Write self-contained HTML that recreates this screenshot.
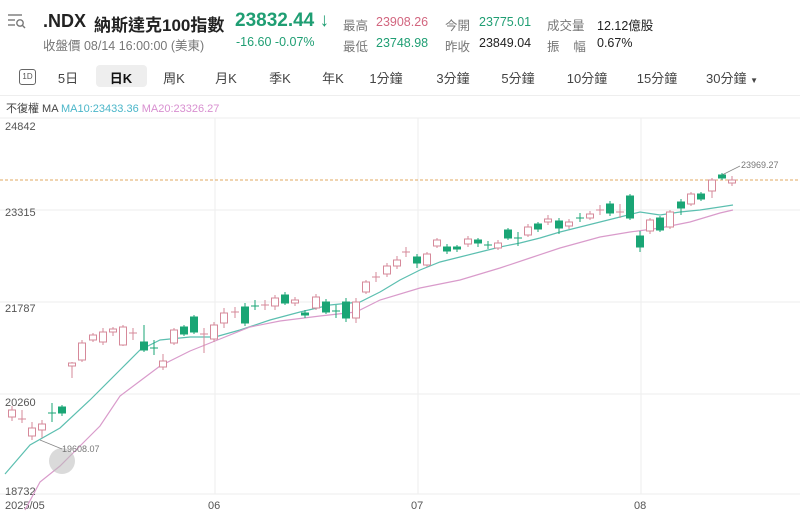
<!DOCTYPE html>
<html><head><meta charset="utf-8"><style>
body{margin:0;width:800px;height:516px;background:#fff;font-family:"Liberation Sans","Noto Sans CJK TC",sans-serif;position:relative;overflow:hidden}
.t{position:absolute;white-space:nowrap}
.g{color:#1f9e73}.r{color:#d2667f}.k{color:#222}.m{color:#777}
.tab{position:absolute;top:68px;font-size:13px;color:#444;transform:translateX(-50%)}
</style></head><body>
<svg class="t" style="left:7px;top:12px" width="20" height="18"><g stroke="#777" stroke-width="1.4" fill="none"><line x1="1" y1="3" x2="15" y2="3"/><line x1="1" y1="8" x2="8" y2="8"/><line x1="1" y1="13" x2="8" y2="13"/><circle cx="13" cy="11" r="3.2"/><line x1="15.3" y1="13.3" x2="18" y2="16"/></g></svg>
<div class="t k" style="left:43px;top:11px;font-size:18px;font-weight:bold">.NDX</div>
<div class="t k" style="left:94px;top:11px;font-size:17px;font-weight:bold">納斯達克100指數</div>
<div class="t g" style="left:235px;top:10px;font-size:19px;font-weight:bold">23832.44 ↓</div>
<div class="t m" style="left:43px;top:35px;font-size:12.5px">收盤價 08/14 16:00:00 (美東)</div>
<div class="t g" style="left:236px;top:35px;font-size:12.5px">-16.60 -0.07%</div>
<div class="t m" style="left:343px;top:15px;font-size:12.5px">最高</div>
<div class="t r" style="left:376px;top:15px;font-size:12.5px">23908.26</div>
<div class="t m" style="left:445px;top:15px;font-size:12.5px">今開</div>
<div class="t g" style="left:479px;top:15px;font-size:12.5px">23775.01</div>
<div class="t m" style="left:547px;top:15px;font-size:12.5px">成交量</div>
<div class="t k" style="left:597px;top:15px;font-size:12.5px">12.12億股</div>
<div class="t m" style="left:343px;top:36px;font-size:12.5px">最低</div>
<div class="t g" style="left:376px;top:36px;font-size:12.5px">23748.98</div>
<div class="t m" style="left:445px;top:36px;font-size:12.5px">昨收</div>
<div class="t k" style="left:479px;top:36px;font-size:12.5px">23849.04</div>
<div class="t m" style="left:547px;top:36px;font-size:12.5px">振&nbsp;&nbsp;&nbsp;&nbsp;幅</div>
<div class="t k" style="left:597px;top:36px;font-size:12.5px">0.67%</div>
<div class="t" style="left:19px;top:69px;width:15px;height:14px;border:1.3px solid #666;border-radius:3px;font-size:8px;text-align:center;line-height:14px;color:#555">1D</div>
<div class="t" style="left:96px;top:65px;width:51px;height:22px;background:#eee;border-radius:4px"></div>
<div class="tab" style="left:68px">5日</div>
<div class="tab" style="left:121px;color:#111;font-weight:bold">日K</div>
<div class="tab" style="left:174px">周K</div>
<div class="tab" style="left:226px">月K</div>
<div class="tab" style="left:280px">季K</div>
<div class="tab" style="left:333px">年K</div>
<div class="tab" style="left:386px">1分鐘</div>
<div class="tab" style="left:453px">3分鐘</div>
<div class="tab" style="left:518px">5分鐘</div>
<div class="tab" style="left:587px">10分鐘</div>
<div class="tab" style="left:657px">15分鐘</div>
<div class="tab" style="left:732px">30分鐘 <span style="font-size:8px">▼</span></div>
<div class="t" style="left:0;top:95px;width:800px;height:1px;background:#eee"></div>
<div class="t" style="left:6px;top:100px;font-size:11px;color:#444">不復權 MA <span style="color:#4bb6c9">MA10:23433.36</span> <span style="color:#d88fd0">MA20:23326.27</span></div>
<svg class="t" style="left:0;top:0" width="800" height="516">
<g stroke="#eee" stroke-width="1"><line x1="0" y1="118" x2="800" y2="118"/><line x1="0" y1="210" x2="800" y2="210"/><line x1="0" y1="302" x2="800" y2="302"/><line x1="0" y1="394" x2="800" y2="394"/><line x1="0" y1="494" x2="800" y2="494"/><line x1="215" y1="118" x2="215" y2="494"/><line x1="418" y1="118" x2="418" y2="494"/><line x1="641" y1="118" x2="641" y2="494"/></g>
<g font-size="11" fill="#555"><text x="5" y="130">24842</text><text x="5" y="216">23315</text><text x="5" y="312">21787</text><text x="5" y="406">20260</text><text x="5" y="495">18732</text>
<text x="5" y="509">2025/05</text><text x="208" y="509">06</text><text x="411" y="509">07</text><text x="634" y="509">08</text></g>
<line x1="0" y1="180" x2="800" y2="180" stroke="#e0a860" stroke-dasharray="3,2" stroke-width="1"/>
<polyline fill="none" stroke="#5cbfb0" stroke-width="1.2" points="5,474 30,445 60,428 90,400 120,370 140,350 160,340 190,337 215,337 240,330 270,320 300,312 330,305 360,302 380,292 400,280 420,270 440,262 460,257 480,252 500,247 520,243 540,238 560,232 580,227 600,222 620,217 640,212 660,215 680,212 700,210 720,207 733,205"/>
<polyline fill="none" stroke="#d99bcb" stroke-width="1.2" points="25,510 40,482 60,466 80,446 100,426 120,396 140,381 160,366 190,351 215,341 250,327 280,321 320,316 356,312 380,300 420,288 460,280 500,268 530,258 560,248 600,237 630,232 660,228 690,222 720,213 733,210"/>
<circle cx="62" cy="461" r="13" fill="#bbb" opacity="0.55"/>
<polyline points="40,440 62,449" fill="none" stroke="#888" stroke-width="0.8"/>
<text x="62" y="452" font-size="9" fill="#777">19608.07</text>
<polyline points="722,175 740,166" fill="none" stroke="#888" stroke-width="0.8"/>
<text x="741" y="168" font-size="9" fill="#777">23969.27</text>
<g stroke="#d6899a" stroke-width="1" fill="#fff">
<line x1="12" y1="406" x2="12" y2="421"/><rect x="8.5" y="410" width="7" height="7"/>
<line x1="32" y1="422" x2="32" y2="440"/><rect x="28.5" y="428" width="7" height="8"/>
<line x1="42" y1="420" x2="42" y2="438"/><rect x="38.5" y="424" width="7" height="6"/>
<line x1="22" y1="410" x2="22" y2="423"/><line x1="18" y1="419" x2="26" y2="419"/>
<line x1="72" y1="362" x2="72" y2="378"/><rect x="68.5" y="363" width="7" height="3"/>
<line x1="82" y1="340" x2="82" y2="362"/><rect x="78.5" y="343" width="7" height="17"/>
<line x1="93" y1="333" x2="93" y2="342"/><rect x="89.5" y="335" width="7" height="5"/>
<line x1="103" y1="328" x2="103" y2="345"/><rect x="99.5" y="332" width="7" height="10"/>
<line x1="113" y1="327" x2="113" y2="336"/><rect x="109.5" y="329" width="7" height="3"/>
<line x1="123" y1="325" x2="123" y2="346"/><rect x="119.5" y="327" width="7" height="18"/>
<line x1="133" y1="328" x2="133" y2="340"/><line x1="129" y1="333" x2="137" y2="333"/>
<line x1="163" y1="354" x2="163" y2="370"/><rect x="159.5" y="361" width="7" height="6"/>
<line x1="174" y1="328" x2="174" y2="345"/><rect x="170.5" y="330" width="7" height="13"/>
<line x1="214" y1="322" x2="214" y2="342"/><rect x="210.5" y="325" width="7" height="14"/>
<line x1="224" y1="308" x2="224" y2="328"/><rect x="220.5" y="313" width="7" height="10"/>
<line x1="275" y1="295" x2="275" y2="310"/><rect x="271.5" y="298" width="7" height="8"/>
<line x1="295" y1="297" x2="295" y2="306"/><rect x="291.5" y="300" width="7" height="3"/>
<line x1="316" y1="294" x2="316" y2="310"/><rect x="312.5" y="297" width="7" height="11"/>
<line x1="356" y1="298" x2="356" y2="323"/><rect x="352.5" y="302" width="7" height="16"/>
<line x1="366" y1="280" x2="366" y2="294"/><rect x="362.5" y="282" width="7" height="10"/>
<line x1="387" y1="263" x2="387" y2="277"/><rect x="383.5" y="266" width="7" height="8"/>
<line x1="397" y1="256" x2="397" y2="269"/><rect x="393.5" y="260" width="7" height="6"/>
<line x1="427" y1="252" x2="427" y2="267"/><rect x="423.5" y="254" width="7" height="11"/>
<line x1="437" y1="238" x2="437" y2="248"/><rect x="433.5" y="240" width="7" height="6"/>
<line x1="468" y1="236" x2="468" y2="247"/><rect x="464.5" y="239" width="7" height="5"/>
<line x1="498" y1="240" x2="498" y2="250"/><rect x="494.5" y="243" width="7" height="5"/>
<line x1="528" y1="224" x2="528" y2="237"/><rect x="524.5" y="227" width="7" height="8"/>
<line x1="548" y1="215" x2="548" y2="225"/><rect x="544.5" y="219" width="7" height="3"/>
<line x1="569" y1="219" x2="569" y2="229"/><rect x="565.5" y="222" width="7" height="4"/>
<line x1="590" y1="211" x2="590" y2="220"/><rect x="586.5" y="214" width="7" height="4"/>
<line x1="620" y1="204" x2="620" y2="218"/><line x1="616" y1="212" x2="624" y2="212"/>
<line x1="650" y1="218" x2="650" y2="234"/><rect x="646.5" y="220" width="7" height="11"/>
<line x1="670" y1="210" x2="670" y2="229"/><rect x="666.5" y="212" width="7" height="15"/>
<line x1="691" y1="192" x2="691" y2="206"/><rect x="687.5" y="194" width="7" height="10"/>
<line x1="712" y1="178" x2="712" y2="198"/><rect x="708.5" y="180" width="7" height="11"/>
<line x1="732" y1="176" x2="732" y2="186"/><rect x="728.5" y="180" width="7" height="3"/>
<line x1="235" y1="307" x2="235" y2="318"/><line x1="231" y1="312" x2="239" y2="312"/>
<line x1="265" y1="300" x2="265" y2="310"/><line x1="261" y1="305" x2="269" y2="305"/>
<line x1="376" y1="272" x2="376" y2="282"/><line x1="372" y1="277" x2="380" y2="277"/>
<line x1="406" y1="247" x2="406" y2="257"/><line x1="402" y1="252" x2="410" y2="252"/>
<line x1="600" y1="205" x2="600" y2="215"/><line x1="596" y1="210" x2="604" y2="210"/>
<line x1="204" y1="328" x2="204" y2="353"/><line x1="200" y1="334" x2="208" y2="334"/>
</g>
<g stroke="#1aa575" stroke-width="1" fill="#1aa575">
<line x1="52" y1="403" x2="52" y2="422"/><line x1="48" y1="413" x2="56" y2="413"/>
<line x1="62" y1="405" x2="62" y2="416"/><rect x="58.5" y="407" width="7" height="6"/>
<line x1="144" y1="325" x2="144" y2="352"/><rect x="140.5" y="342" width="7" height="8"/>
<line x1="154" y1="340" x2="154" y2="355"/><line x1="150" y1="348" x2="158" y2="348"/>
<line x1="184" y1="325" x2="184" y2="336"/><rect x="180.5" y="327" width="7" height="7"/>
<line x1="194" y1="315" x2="194" y2="334"/><rect x="190.5" y="317" width="7" height="15"/>
<line x1="245" y1="303" x2="245" y2="326"/><rect x="241.5" y="307" width="7" height="16"/>
<line x1="255" y1="300" x2="255" y2="310"/><line x1="251" y1="306" x2="259" y2="306"/>
<line x1="285" y1="292" x2="285" y2="305"/><rect x="281.5" y="295" width="7" height="8"/>
<line x1="305" y1="310" x2="305" y2="318"/><rect x="301.5" y="313" width="7" height="2"/>
<line x1="326" y1="299" x2="326" y2="314"/><rect x="322.5" y="302" width="7" height="10"/>
<line x1="336" y1="305" x2="336" y2="318"/><line x1="332" y1="311" x2="340" y2="311"/>
<line x1="346" y1="298" x2="346" y2="322"/><rect x="342.5" y="302" width="7" height="16"/>
<line x1="417" y1="254" x2="417" y2="268"/><rect x="413.5" y="257" width="7" height="6"/>
<line x1="447" y1="244" x2="447" y2="254"/><rect x="443.5" y="247" width="7" height="4"/>
<line x1="457" y1="245" x2="457" y2="252"/><rect x="453.5" y="247" width="7" height="2"/>
<line x1="478" y1="238" x2="478" y2="247"/><rect x="474.5" y="240" width="7" height="3"/>
<line x1="488" y1="241" x2="488" y2="249"/><line x1="484" y1="245" x2="492" y2="245"/>
<line x1="508" y1="228" x2="508" y2="240"/><rect x="504.5" y="230" width="7" height="8"/>
<line x1="518" y1="232" x2="518" y2="246"/><line x1="514" y1="238" x2="522" y2="238"/>
<line x1="538" y1="222" x2="538" y2="232"/><rect x="534.5" y="224" width="7" height="5"/>
<line x1="559" y1="218" x2="559" y2="234"/><rect x="555.5" y="221" width="7" height="7"/>
<line x1="580" y1="213" x2="580" y2="222"/><line x1="576" y1="218" x2="584" y2="218"/>
<line x1="610" y1="201" x2="610" y2="216"/><rect x="606.5" y="204" width="7" height="9"/>
<line x1="630" y1="194" x2="630" y2="220"/><rect x="626.5" y="196" width="7" height="22"/>
<line x1="640" y1="231" x2="640" y2="252"/><rect x="636.5" y="236" width="7" height="11"/>
<line x1="660" y1="216" x2="660" y2="232"/><rect x="656.5" y="218" width="7" height="12"/>
<line x1="681" y1="199" x2="681" y2="215"/><rect x="677.5" y="202" width="7" height="6"/>
<line x1="701" y1="192" x2="701" y2="201"/><rect x="697.5" y="194" width="7" height="5"/>
<line x1="722" y1="173" x2="722" y2="180"/><rect x="718.5" y="175" width="7" height="3"/>
</g>
</svg>
</body></html>
